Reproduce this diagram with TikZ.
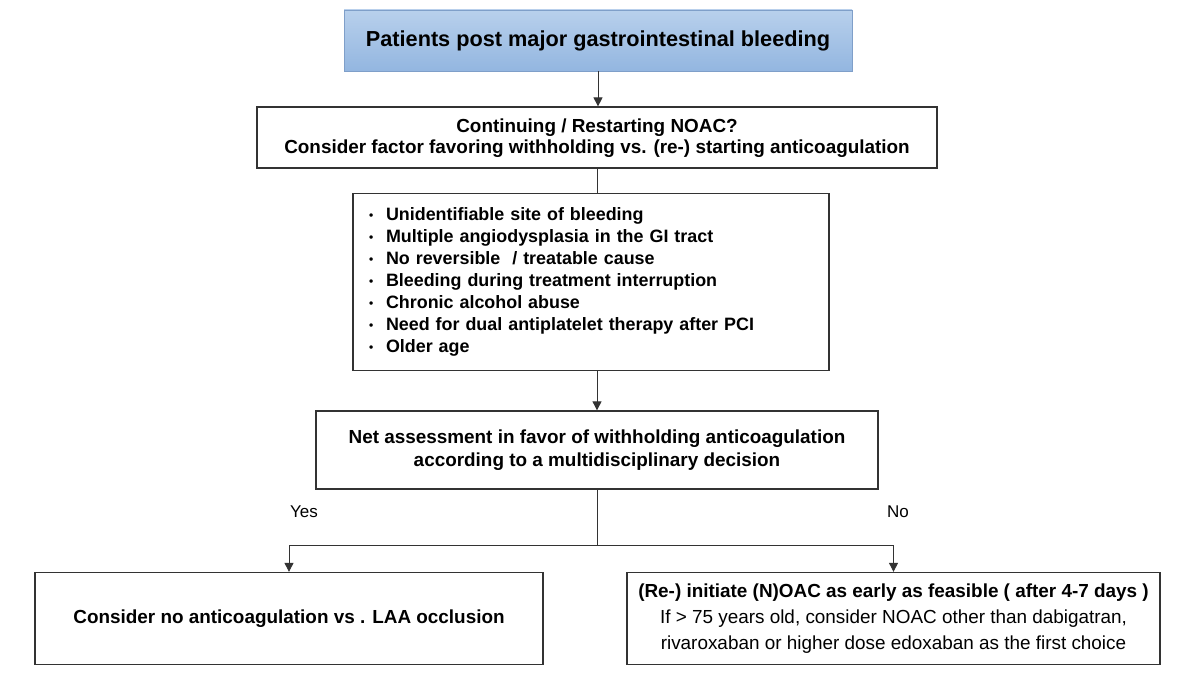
\documentclass[tikz,border=0pt]{standalone}
\usepackage{fontspec}
\setmainfont{Liberation Sans}
\usepackage{tikz}
\usetikzlibrary{
	positioning,
	arrows.meta
}

\definecolor{titletop}{HTML}{B8D0EC}
\definecolor{titlebot}{HTML}{93B6E0}
\definecolor{titleline}{HTML}{7F9FC9}
\definecolor{linegray}{HTML}{333333}

\tikzset{
	box/.style={draw=linegray,line width=1.3pt,fill=white,inner sep=0pt,
		align=center,font=\bfseries\fontsize{18.9}{21}\selectfont},
	titlebox/.style={box,draw=titleline,line width=0.8pt,top color=titletop,
		bottom color=titlebot,font=\bfseries\fontsize{21.7}{24}\selectfont},
	link/.style={draw=linegray,line width=0.9pt},
	arrow/.style={link,-{Triangle[length=9pt,width=9pt]}},
	answer/.style={font=\fontsize{17}{19}\selectfont}
}

\newcommand{\itm}{\makebox[17pt][l]{\raisebox{1pt}{\fontsize{12}{12}\selectfont\textbullet}}}

\begin{document}
\begin{tikzpicture}[x=1pt,y=-1pt,node distance=24pt]
	\useasboundingbox (0,0) rectangle (1182,676);

	\draw
		node[titlebox,minimum width=508pt,minimum height=61pt] at (598,40.5) (start)
			{Patients post major gastrointestinal bleeding}
		node[box,minimum width=680pt,minimum height=61pt,below=35pt of start.south,anchor=north,xshift=-1pt] (restart)
			{\rule{0pt}{15pt}Continuing / Restarting NOAC?\\
			 Consider factor favoring withholding vs. (re-) starting anticoagulation}
		node[box,minimum width=476pt,minimum height=177pt,align=left,
			inner xsep=16pt,text width=444pt,
			font=\bfseries\fontsize{17.9}{22}\selectfont,
			below=24pt of restart.south,anchor=north,xshift=-6pt] (factors)
			{\itm Unidentifiable site of bleeding\\
			 \itm Multiple angiodysplasia in the GI tract\\
			 \itm No reversible~ / treatable cause\\
			 \itm Bleeding during treatment interruption\\
			 \itm Chronic alcohol abuse\\
			 \itm Need for dual antiplatelet therapy after PCI\\
			 \itm Older age}
		node[box,minimum width=562pt,minimum height=78pt,at={(597,450)},
			font=\bfseries\fontsize{18.9}{23}\selectfont] (net)
			{Net assessment in favor of withholding anticoagulation\\
			 according to a multidisciplinary decision}

		node[box,minimum width=508pt,minimum height=92pt,at={(289,618.5)}] (withhold)
			{Consider no anticoagulation vs . LAA occlusion}
		node[box,minimum width=533pt,minimum height=92pt,at={(893.5,618.5)},
			font=\fontsize{18.9}{26}\selectfont] (initiate)
			{\textbf{(Re-) initiate (N)OAC as early as feasible ( after 4-7 days )}\\
			 If > 75 years old, consider NOAC other than dabigatran,\\
			 rivaroxaban or higher dose edoxaban as the first choice}

		node[answer] at (304,512) (yes) {Yes}
		node[answer] at (898,512) (no)  {No}
	;

	\coordinate (split) at (597,545);

	\draw[arrow] (start) -- (start |- restart.north);
	\draw[link]  (restart.south) -- (restart.south |- factors.north);
	\draw[arrow] (net.north |- factors.south) -- (net.north);
	\draw[link]  (net.south) -- (split);
	\draw[arrow] (split) -| (withhold.north);
	\draw[arrow] (split) -| (initiate.north);
\end{tikzpicture}
\end{document}
